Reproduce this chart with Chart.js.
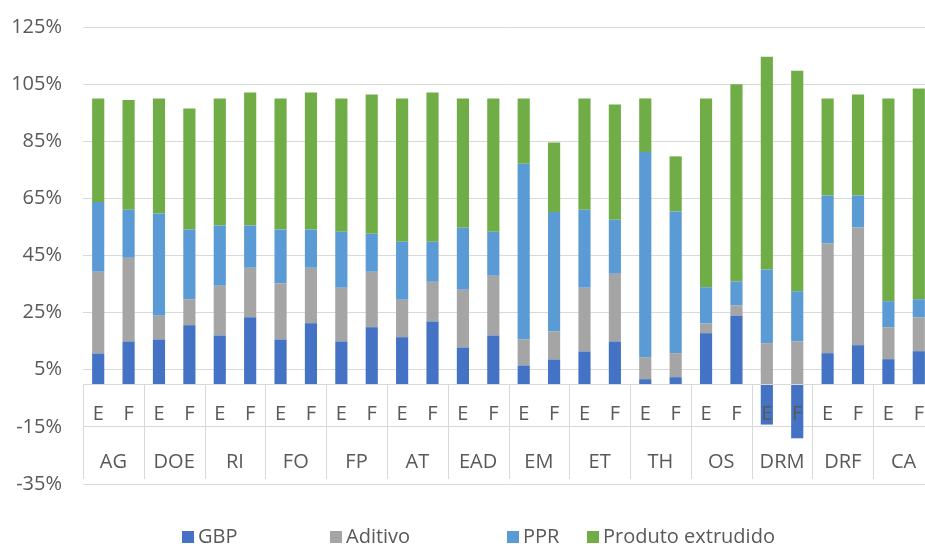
<!DOCTYPE html>
<html>
<head>
<meta charset="utf-8">
<script src="https://cdn.jsdelivr.net/npm/chart.js@4.4.1/dist/chart.umd.min.js"></script>
<style>
    html, body {
        margin: 0;
        padding: 0;
        background: #ffffff;
        overflow: hidden;
    }
    #wrap {
        position: relative;
        width: 940px;
        height: 544px;
    }
</style>
</head>
<body>
<div id="wrap">
    <canvas id="chart"></canvas>
</div>

<script>
// ==========================
// DATA
// ==========================

const groups = ["AG", "DOE", "RI", "FO", "FP", "AT", "EAD", "EM", "ET", "TH", "OS", "DRM", "DRF", "CA"];
const subLabels = ["E", "F"];

const yTicks = [-35, -15, 5, 25, 45, 65, 85, 105, 125];

const gbp = [10.7, 14.9, 15.6, 20.6, 17.0, 23.4, 15.6, 21.3, 14.9, 19.9, 16.4, 21.9, 12.8, 17.0,
    6.5, 8.6, 11.4, 14.9, 1.7, 2.4, 17.8, 23.9, -14.2, -19.0, 10.8, 13.6, 8.7, 11.5];

const aditivo = [28.6, 29.3, 8.3, 9.1, 17.4, 17.3, 19.7, 19.4, 18.8, 19.4, 13.1, 13.9, 20.2, 20.9,
    9.1, 9.8, 22.3, 23.7, 7.7, 8.4, 3.4, 3.7, 14.3, 15.0, 38.4, 41.2, 11.2, 11.9];

const ppr = [24.4, 16.8, 35.8, 24.4, 21.1, 14.8, 18.8, 13.4, 19.6, 13.3, 20.3, 14.0, 21.7, 15.4,
    61.5, 41.8, 27.3, 18.9, 71.8, 49.6, 12.7, 8.3, 25.8, 17.5, 16.8, 11.2, 9.1, 6.3];

const produto = [36.3, 38.4, 40.3, 42.4, 44.5, 46.6, 45.9, 48.0, 46.7, 48.8, 50.2, 52.3, 45.3, 46.7,
    22.9, 24.4, 39.0, 40.4, 18.8, 19.3, 66.1, 69.1, 74.5, 77.2, 34.0, 35.4, 71.0, 73.8];

const seriesNames = ["GBP", "Aditivo", "PPR", "Produto extrudido"];
const seriesColors = ["#4472C4", "#A5A5A5", "#5B9BD5", "#70AD47"];

// one label per bar: E / F under each group
const labels = [];
groups.forEach(g => {
    subLabels.forEach(s => labels.push(s));
});

const FONT = "'Open Sans', 'Noto Sans', sans-serif";
const TEXT_COLOR = "#595959";
const LINE_COLOR = "#d9d9d9";


// ==========================
// PLUGINS
// ==========================

// two-level category labels drawn under the zero line
const groupAxis = {
    id: "groupAxis",
    afterDatasetsDraw(chart) {
        const c = chart.ctx;
        const x = chart.scales.x;
        const y = chart.scales.y;
        const area = chart.chartArea;
        const y0 = y.getPixelForValue(0);
        const step = x.getPixelForValue(1) - x.getPixelForValue(0);

        c.save();

        // zero line
        c.strokeStyle = LINE_COLOR;
        c.lineWidth = 1;
        c.beginPath();
        c.moveTo(area.left, Math.round(y0) + 0.5);
        c.lineTo(area.right, Math.round(y0) + 0.5);
        c.stroke();

        // group dividers
        for (let g = 0; g <= groups.length; g++) {
            const px = Math.round(area.left + g * 2 * step) + 0.5;
            c.beginPath();
            c.moveTo(px, y0);
            c.lineTo(px, y0 + 95);
            c.stroke();
        }

        c.fillStyle = TEXT_COLOR;
        c.font = "20px " + FONT;
        c.textAlign = "center";
        c.textBaseline = "middle";

        labels.forEach((lab, i) => {
            c.fillText(lab, x.getPixelForValue(i), y0 + 30);
        });

        groups.forEach((g, i) => {
            const cx = (x.getPixelForValue(i * 2) + x.getPixelForValue(i * 2 + 1)) / 2;
            c.fillText(g, cx, y0 + 78);
        });

        c.restore();
    }
};

// legend with the original uneven spacing
const bottomLegend = {
    id: "bottomLegend",
    afterDraw(chart, args, opts) {
        const c = chart.ctx;
        c.save();
        c.font = "20px " + FONT;
        c.textBaseline = "middle";
        c.textAlign = "left";
        seriesNames.forEach((name, i) => {
            const bx = opts.boxX[i];
            c.fillStyle = seriesColors[i];
            c.fillRect(bx, opts.y - 6, 12, 12);
            c.fillStyle = TEXT_COLOR;
            c.fillText(name, bx + 16, opts.y);
        });
        c.restore();
    }
};


// ==========================
// CHART
// ==========================

const ctx = document.getElementById("chart").getContext("2d");

new Chart(ctx, {
    type: "bar",
    data: {
        labels: labels,
        datasets: [gbp, aditivo, ppr, produto].map((vals, i) => ({
            label: seriesNames[i],
            data: vals,
            backgroundColor: seriesColors[i],
            borderWidth: 0,
            barPercentage: 0.4,
            categoryPercentage: 1
        }))
    },
    options: {
        responsive: true,
        maintainAspectRatio: false,
        animation: false,
        layout: {
            padding: { top: 27, bottom: 60, left: 0, right: 6 }
        },
        plugins: {
            legend: { display: false },
            tooltip: { enabled: false },
            bottomLegend: {
                boxX: [182, 330, 507, 587],
                y: 537
            }
        },
        scales: {
            x: {
                stacked: true,
                display: false
            },
            y: {
                stacked: true,
                min: -35,
                max: 125,
                afterBuildTicks(scale) {
                    scale.ticks = yTicks.map(v => ({ value: v }));
                },
                afterFit(scale) {
                    scale.width = 83;
                    scale.paddingTop = 0;
                    scale.paddingBottom = 0;
                },
                grid: {
                    color: LINE_COLOR,
                    lineWidth: 1,
                    drawTicks: false
                },
                border: { display: false },
                ticks: {
                    padding: 21,
                    color: TEXT_COLOR,
                    font: { family: FONT, size: 20 },
                    callback: v => v + "%"
                }
            }
        }
    },
    plugins: [groupAxis, bottomLegend]
});
</script>
</body>
</html>
